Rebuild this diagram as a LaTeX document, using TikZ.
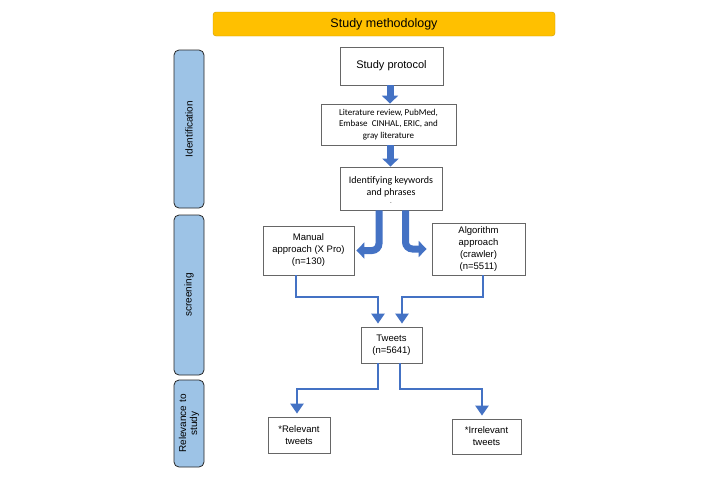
\documentclass[tikz,border=0pt]{standalone}
\usepackage{fontspec}
\setmainfont{Liberation Sans}
\newfontfamily\calibrifont{Carlito}
\usetikzlibrary{
    arrows.meta,
    positioning,
    calc
}
\definecolor{titleorange}{HTML}{FFC000}
\definecolor{sideblue}{HTML}{9DC3E6}
\definecolor{arrowblue}{HTML}{4472C4}

\begin{document}
\begin{tikzpicture}[
    x=1pt,
    y=-1pt,
    every node/.style={
        font=\fontsize{9.5pt}{12pt}\selectfont
    },
    flowbox/.style={
        draw=gray!80!black,
        line width=0.8pt,
        fill=white,
        align=center,
        inner sep=0pt
    },
    sidebar/.style={
        draw=gray!30!black,
        line width=0.8pt,
        fill=sideblue,
        rounded corners=5pt,
        minimum width=30pt
    },
    sidetext/.style={
        rotate=90,
        align=center,
        font=\fontsize{10pt}{11pt}\selectfont
    },
    bigflow/.style={
        draw=arrowblue,
        line width=7pt,
        -{Triangle[width=16pt,length=8pt]}
    },
    flow/.style={
        arrowblue,
        line width=2.5pt,
        -{Triangle[width=13pt,length=10pt]},
        shorten >=3pt
    }
]

    \useasboundingbox (0,0) rectangle (721,480);

    % -------------------------------------------------------
    % Title
    % -------------------------------------------------------
    \node[
        draw=titleorange!80!black,
        fill=titleorange,
        rounded corners=3pt,
        minimum width=342pt,
        minimum height=24pt,
        font=\fontsize{12.5pt}{14pt}\selectfont
    ] (title) at (384,24)
        {Study methodology};

    % -------------------------------------------------------
    % Stage bars
    % -------------------------------------------------------
    \node[
        sidebar,
        minimum height=158pt
    ] (idbar) at (189,129)
        {};
    \node[sidetext] (idlabel) at (idbar.center) {Identification};

    \node[
        sidebar,
        minimum height=160pt
    ] (screenbar) at (189,295)
        {};
    \node[sidetext] (screenlabel) at (screenbar.center) {screening};

    \node[
        sidebar,
        minimum height=87pt
    ] (relbar) at (189,423.5)
        {};
    \node[sidetext] (rellabel) at (relbar.center) {Relevance to\\study};

    % -------------------------------------------------------
    % Identification
    % -------------------------------------------------------
    \node[
        flowbox,
        minimum width=103pt,
        minimum height=38pt,
        font=\fontsize{11pt}{13pt}\selectfont
    ] (protocol) at (391.5,66)
        {Study protocol};

    \node[
        flowbox,
        minimum width=135pt,
        minimum height=41pt,
        font=\calibrifont\fontsize{9pt}{11.3pt}\selectfont
    ] (lit) at (388.5,124.5)
        {Literature review, PubMed,\\Embase \ CINHAL, ERIC, and\\gray literature};

    \node[
        flowbox,
        minimum width=102pt,
        minimum height=43pt
    ] (keys) at (391,188.5)
        {};
    \node[
        align=center,
        font=\calibrifont\fontsize{10pt}{12.3pt}\selectfont
    ] (keystext) at ([yshift=-2pt]keys.center)
        {Identifying keywords\\and phrases\\[-4pt]{\tiny -}};

    \draw[bigflow]
        ([xshift=-1.5pt]protocol.south) -- ([xshift=-1.5pt]protocol.south |- lit.north);
    \draw[bigflow]
        ([xshift=-0.5pt]keys.north |- lit.south) -- ([xshift=-0.5pt]keys.north);

    % -------------------------------------------------------
    % Screening
    % -------------------------------------------------------
    \node[
        flowbox,
        minimum width=91pt,
        minimum height=49pt
    ] (manual) at (308.5,250.5)
        {Manual\\approach (X Pro)\\(n=130)};

    \node[
        flowbox,
        minimum width=93pt,
        minimum height=52pt
    ] (algo) at (478.5,249)
        {Algorithm\\approach\\(crawler)\\(n=5511)};

    \node[
        flowbox,
        minimum width=61pt,
        minimum height=36pt
    ] (tweets) at (391.5,345)
        {Tweets\\(n=5641)};

    % Bent block arrows out of the keyword box
    \draw[bigflow, rounded corners=7pt]
        ([xshift=-12pt]keys.south) |- ([xshift=2pt]manual.east);
    \draw[bigflow, rounded corners=7pt]
        ([xshift=14.5pt]keys.south) |- ([xshift=-5pt]algo.west);

    % Elbow arrows into the tweets box
    \coordinate (mbendA) at (296,297);
    \coordinate (mbendB) at (378,297);
    \coordinate (abendA) at (483,297);
    \coordinate (abendB) at (402,297);

    \draw[flow]
        (manual.south -| mbendA) -- (mbendA) -- (mbendB)
        -- (tweets.north -| mbendB);
    \draw[flow]
        (algo.south -| abendA) -- (abendA) -- (abendB)
        -- (tweets.north -| abendB);

    % -------------------------------------------------------
    % Relevance to study
    % -------------------------------------------------------
    \node[
        flowbox,
        minimum width=62pt,
        minimum height=36pt
    ] (relevant) at (299,435)
        {*Relevant\\tweets};

    \node[
        flowbox,
        minimum width=69pt,
        minimum height=35pt
    ] (irrelevant) at (486.5,436.5)
        {*Irrelevant\\tweets};

    \coordinate (rbendA) at (378,389);
    \coordinate (rbendB) at (297,389);
    \coordinate (ibendA) at (400,389);
    \coordinate (ibendB) at (482,389);

    \draw[flow]
        (tweets.south -| rbendA) -- (rbendA) -- (rbendB)
        -- (relevant.north -| rbendB);
    \draw[flow]
        (tweets.south -| ibendA) -- (ibendA) -- (ibendB)
        -- (irrelevant.north -| ibendB);

\end{tikzpicture}
\end{document}
